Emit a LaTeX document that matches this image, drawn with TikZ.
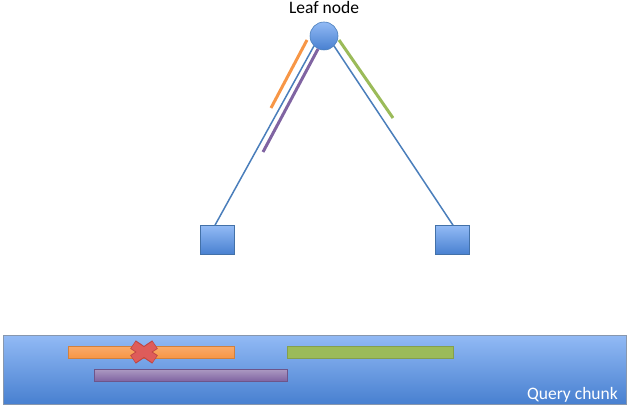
\documentclass[tikz,border=0pt]{standalone}
\usepackage{fontspec}
\setmainfont{Carlito}
\usetikzlibrary{positioning,calc}
\definecolor{edgeblue}{RGB}{74,126,187}
\definecolor{boxtop}{RGB}{146,186,245}
\definecolor{boxbot}{RGB}{72,128,208}
\definecolor{myorange}{RGB}{247,150,70}
\definecolor{mygreen}{RGB}{155,187,89}
\definecolor{mypurple}{RGB}{128,100,162}
\definecolor{myred}{RGB}{222,92,90}
\definecolor{darkred}{RGB}{190,70,68}

\begin{document}
\begin{tikzpicture}[x=1pt,y=-1pt,edge/.style={draw=edgeblue,line width=1.5pt},
box/.style={rectangle,draw=edgeblue!90!black,line width=0.6pt,top color=boxtop,bottom color=boxbot,minimum width=34pt,minimum height=29pt,inner sep=0pt},
bar/.style={rectangle,minimum height=12pt,inner sep=0pt,line width=0.5pt},
seg/.style={line width=3pt}]
\useasboundingbox (0,0) rectangle (630,409);

% nodes
\node[circle,minimum size=28pt,inner sep=0pt,draw=edgeblue,line width=0.6pt,top color=boxtop,bottom color=boxbot](leaf) at (324,36){};
\node[above=8pt of leaf,inner sep=0pt,font=\fontsize{17.5}{20}\selectfont](leaflabel){Leaf node};
\node[box](left) at (217,240){};
\node[box](right) at (452,240){};

% query chunk
\node[rectangle,draw=gray!60!boxtop,line width=0.8pt,top color=boxtop,bottom color=boxbot,minimum width=623pt,minimum height=69pt,inner sep=0pt](chunk) at (314.5,369.5){};
\node[anchor=base east,inner sep=0pt,text=white,font=\fontsize{17.5}{20}\selectfont](chunklabel) at (618,399){Query chunk};

% hits
\node[bar,draw=myorange!85!black,top color=myorange!80!white,bottom color=myorange,minimum width=166pt](obar) at (151,352){};
\node[bar,draw=mygreen!85!black,fill=mygreen,minimum width=166pt](gbar) at (370,352){};
\node[bar,draw=mypurple!85!black,top color=mypurple!65!white,bottom color=mypurple,minimum width=193pt](pbar) at (190.5,375){};

% edges
\draw[edge] (leaf.225) -- ([xshift=-2pt]left.north);
\draw[edge] (leaf.-45) -- ([xshift=1pt]right.north);

% segments along the edges
\coordinate (o1) at (307,40);
\coordinate (o2) at (271,108);
\coordinate (p1) at (318,49);
\coordinate (p2) at (263,152);
\coordinate (g1) at (339,40);
\coordinate (g2) at (393,118);
\draw[seg,myorange] (o1) -- (o2);
\draw[seg,mypurple] (p1) -- (p2);
\draw[seg,mygreen] (g1) -- (g2);

% cross
\coordinate (xc) at (144,352);
\draw[darkred,line width=10pt] ($(xc)+(-11,-7.5)$) -- ($(xc)+(11,7.5)$) ($(xc)+(-11,7.5)$) -- ($(xc)+(11,-7.5)$);
\draw[myred,line width=8pt] ($(xc)+(-10.5,-7)$) -- ($(xc)+(10.5,7)$) ($(xc)+(-10.5,7)$) -- ($(xc)+(10.5,-7)$);
\end{tikzpicture}
\end{document}
